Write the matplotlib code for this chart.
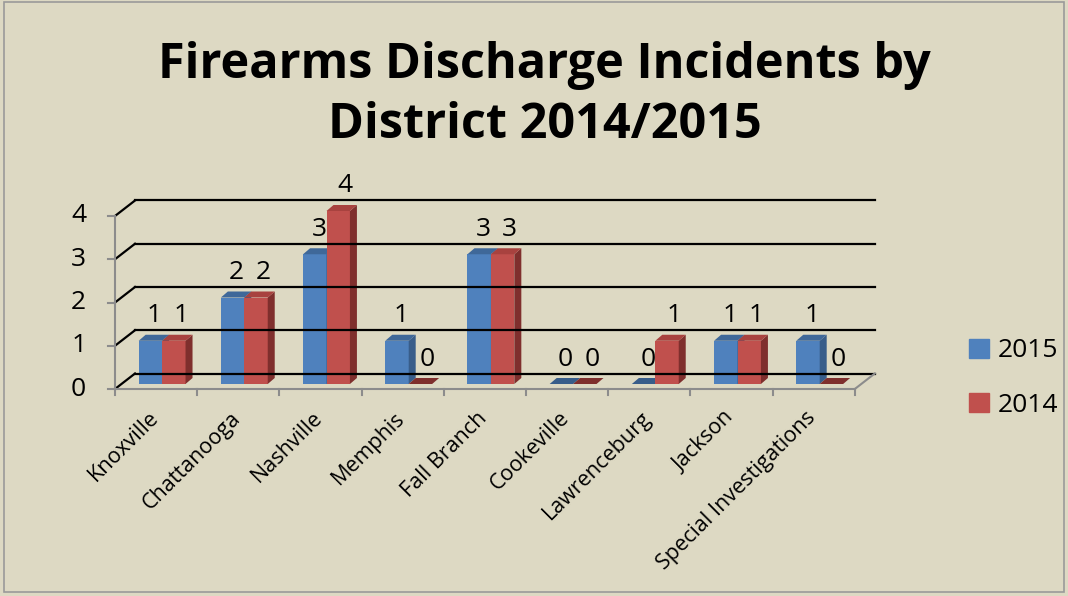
import matplotlib.pyplot as plt
from matplotlib.patches import Patch, Polygon, Rectangle

plt.rcParams['font.family'] = ['Open Sans', 'DejaVu Sans']

districts = ['Knoxville', 'Chattanooga', 'Nashville', 'Memphis', 'Fall Branch',
             'Cookeville', 'Lawrenceburg', 'Jackson', 'Special Investigations']
counts_2015 = [1, 2, 3, 1, 3, 0, 0, 1, 1]
counts_2014 = [1, 2, 4, 0, 3, 0, 1, 1, 0]
y_ticks = [0, 1, 2, 3, 4]

bg = '#DDD9C3'
blue = ('#4F81BD', '#3F6899', '#385D8A')   # front, top, side
red = ('#C0504D', '#A8423F', '#7F2F2D')

W, H = 1068, 596
fig = plt.figure(figsize=(W / 100, H / 100), dpi=100, facecolor=bg)
fig.patches.append(Rectangle((0.004, 0.006), 0.992, 0.99, transform=fig.transFigure,
                             fill=False, edgecolor='#9A9A9A', lw=1.2))

# plot area placed in pixel terms: x from 115 to 875, baseline at y=389
px_x, px_y = 82.2, 43.25
ax = fig.add_axes([115 / W, (H - 389) / H, 760 / W, 209 / H])
ax.set_xlim(0, 760 / px_x)
ax.set_ylim(0, 209 / px_y)
ax.axis('off')

n = len(districts)
wall_dx, wall_dy = 20 / px_x, 15.5 / px_y
bar_dx, bar_dy = 7 / px_x, 6 / px_y
base_dx, base_dy = 6 / px_x, 5 / px_y
bw = 0.285

# back wall gridlines and left diagonals
for v in y_ticks:
    ax.plot([wall_dx, n + wall_dx], [v + wall_dy, v + wall_dy], color='black', lw=1.6,
            clip_on=False)
    ax.plot([0, wall_dx], [v, v + wall_dy], color='black', lw=1.6, clip_on=False)
    ax.plot([-0.09, 0], [v, v], color='#8C8C8C', lw=1.5, clip_on=False)
    ax.text(-0.35, v, str(v), ha='right', va='center', fontsize=19)

# front axes
ax.plot([0, 0], [0, max(y_ticks)], color='#8C8C8C', lw=1.5, clip_on=False)
ax.plot([0, n], [0, 0], color='#8C8C8C', lw=1.5, clip_on=False)
ax.plot([n, n + wall_dx], [0, wall_dy], color='#8C8C8C', lw=1.5, clip_on=False)
for k in range(n + 1):
    ax.plot([k, k], [0, -0.15], color='#8C8C8C', lw=1.5, clip_on=False)


def draw_bar(x0, h, cols, dx_lab):
    y0 = base_dy
    if h > 0:
        ax.bar(x0, h, width=bw, bottom=y0, align='edge', color=cols[0], lw=0)
        ax.add_patch(Polygon([(x0 + bw, y0), (x0 + bw + bar_dx, y0 + bar_dy),
                              (x0 + bw + bar_dx, y0 + h + bar_dy), (x0 + bw, y0 + h)],
                             closed=True, color=cols[2], lw=0))
    ax.add_patch(Polygon([(x0, y0 + h), (x0 + bar_dx, y0 + h + bar_dy),
                          (x0 + bw + bar_dx, y0 + h + bar_dy), (x0 + bw, y0 + h)],
                         closed=True, color=cols[1] if h > 0 else cols[2], lw=0))
    ax.annotate(str(h), (x0 + bw / 2, y0 + h), xytext=(dx_lab, 18), textcoords='offset points',
                ha='center', va='center', fontsize=19)


for i in range(n):
    left = i + 0.5 + base_dx - bw
    draw_bar(left, counts_2015[i], blue, 3)
    draw_bar(left + bw, counts_2014[i], red, 5)
    ax.text(i + 0.49, -0.6, districts[i], rotation=45, rotation_mode='anchor',
            ha='right', va='center', fontsize=15.5)

fig.text(0.51, 0.84, 'Firearms Discharge Incidents by\nDistrict 2014/2015',
         ha='center', va='center', fontsize=35, fontweight='bold', linespacing=1.3)

fig.legend(handles=[Patch(color=blue[0], label='2015'), Patch(color=red[0], label='2014')],
           loc='center left', bbox_to_anchor=(945 / W, (H - 378) / H), frameon=False,
           fontsize=19, handlelength=0.75, handleheight=0.75, labelspacing=1.1,
           handletextpad=0.35)

fig.savefig('out.png', dpi=100, facecolor=bg)
